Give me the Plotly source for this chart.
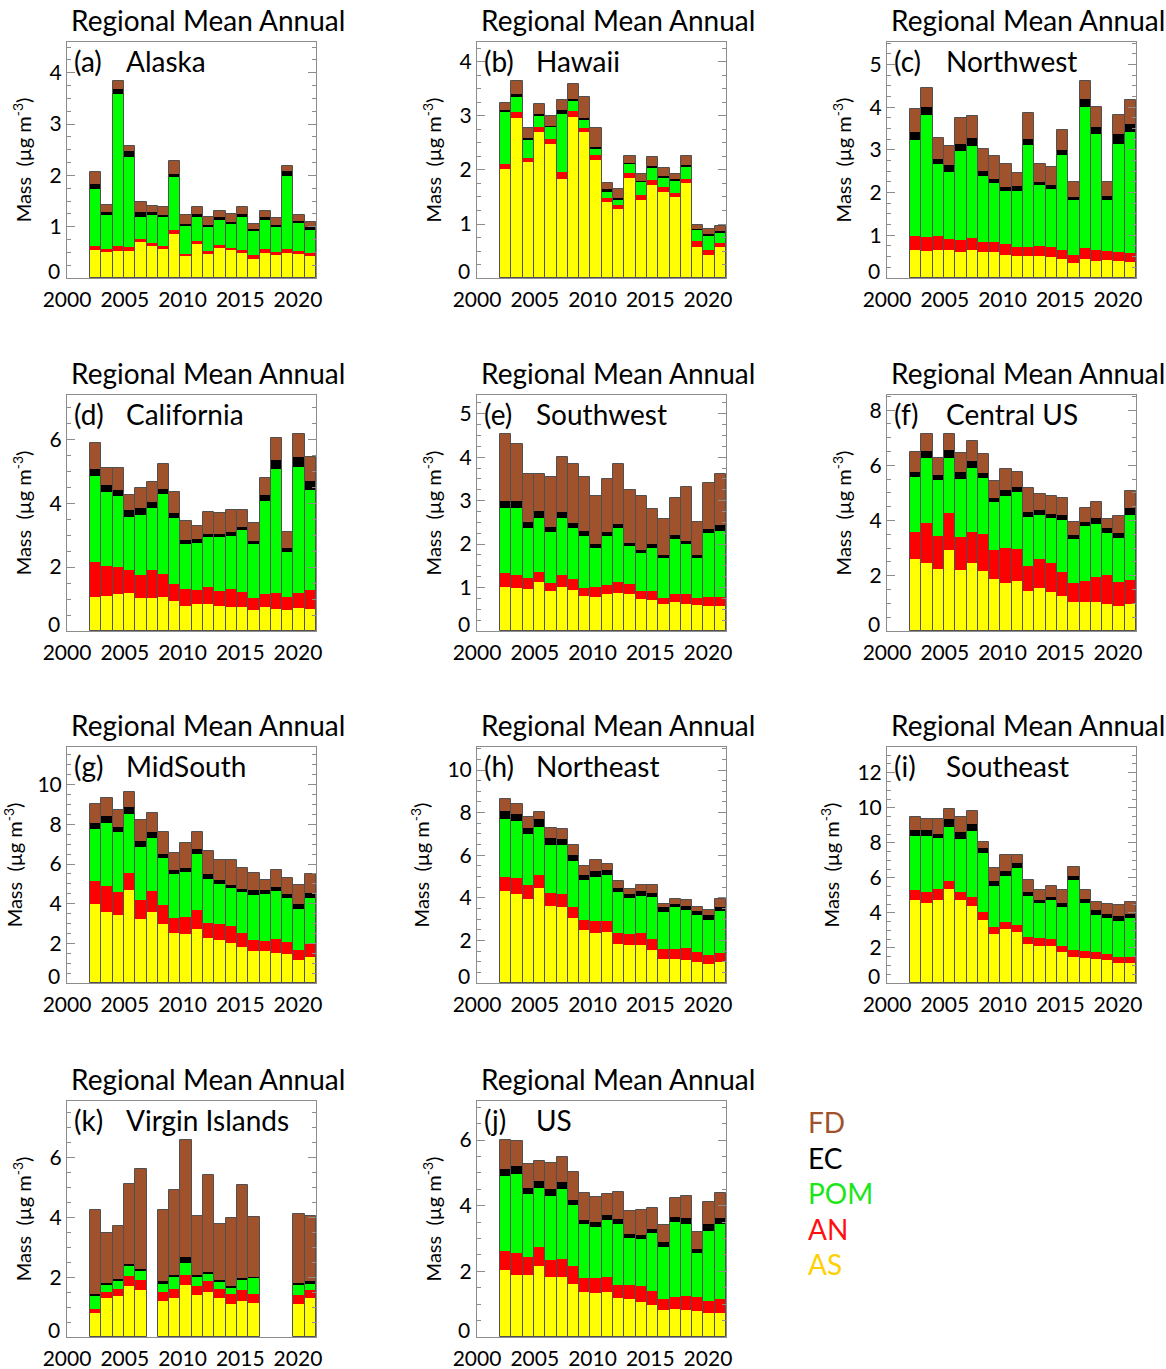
import numpy as np
import plotly.graph_objects as go

YEARS = list(range(2002, 2022))
SPECIES = ["AS", "AN", "POM", "EC", "FD"]
BAR_COLORS = {"AS": "#FFFF00", "AN": "#FF0000", "POM": "#00FF00", "EC": "#000000", "FD": "#A0522D"}
LEGEND_COLORS = {"FD": "#A0522D", "EC": "#000000", "POM": "#1AE61A", "AN": "#FF1010", "AS": "#FFD000"}
LEGEND_ORDER = ["FD", "EC", "POM", "AN", "AS"]
XTICKS = [2000, 2005, 2010, 2015, 2020]

# ---- data (ug m-3), 2002..2021 ----
ALASKA_AS = [0.55,0.51,0.52,0.52,0.70,0.62,0.57,0.85,0.42,0.66,0.46,0.58,0.54,0.49,0.38,0.49,0.44,0.49,0.46,0.43]
ALASKA_AN = [0.08,0.06,0.11,0.08,0.07,0.07,0.05,0.08,0.05,0.07,0.07,0.07,0.05,0.06,0.06,0.07,0.07,0.07,0.06,0.06]
ALASKA_POM = [1.11,0.65,2.95,1.76,0.42,0.54,0.57,1.04,0.54,0.46,0.46,0.49,0.47,0.64,0.49,0.58,0.48,1.42,0.55,0.44]
ALASKA_EC = [0.10,0.06,0.11,0.11,0.09,0.05,0.04,0.06,0.05,0.06,0.05,0.04,0.04,0.06,0.03,0.05,0.04,0.10,0.05,0.06]
ALASKA_FD = [0.23,0.14,0.15,0.11,0.21,0.13,0.15,0.26,0.17,0.13,0.15,0.12,0.15,0.13,0.09,0.12,0.13,0.10,0.10,0.10]

HAWAII_AS = [2.01,2.97,2.14,2.70,2.49,1.84,2.98,2.70,2.19,1.41,1.27,1.85,1.44,1.73,1.60,1.50,1.75,0.57,0.43,0.57]
HAWAII_AN = [0.11,0.10,0.09,0.10,0.09,0.12,0.11,0.08,0.09,0.08,0.08,0.09,0.09,0.08,0.09,0.08,0.08,0.11,0.09,0.08]
HAWAII_POM = [0.95,0.29,0.32,0.21,0.22,1.07,0.20,0.16,0.12,0.12,0.11,0.18,0.25,0.23,0.18,0.23,0.24,0.22,0.27,0.20]
HAWAII_EC = [0.05,0.05,0.05,0.03,0.02,0.09,0.03,0.02,0.03,0.03,0.02,0.01,0.01,0.03,0.02,0.03,0.02,0.01,0.02,0.02]
HAWAII_FD = [0.12,0.23,0.18,0.19,0.18,0.17,0.28,0.39,0.35,0.11,0.16,0.12,0.14,0.17,0.15,0.09,0.16,0.08,0.09,0.09]

NORTHWEST_AS = [0.65,0.63,0.65,0.65,0.61,0.65,0.62,0.61,0.53,0.52,0.51,0.52,0.49,0.45,0.35,0.45,0.41,0.43,0.39,0.38]
NORTHWEST_AN = [0.33,0.32,0.33,0.26,0.27,0.28,0.23,0.23,0.26,0.20,0.21,0.24,0.23,0.21,0.18,0.26,0.25,0.20,0.22,0.21]
NORTHWEST_POM = [2.26,2.86,1.70,1.57,2.09,2.16,1.55,1.39,1.24,1.33,2.39,1.41,1.37,2.22,1.29,3.30,2.71,1.19,2.52,2.82]
NORTHWEST_EC = [0.17,0.20,0.12,0.16,0.18,0.18,0.10,0.10,0.10,0.11,0.15,0.08,0.10,0.13,0.08,0.19,0.18,0.09,0.24,0.19]
NORTHWEST_FD = [0.56,0.45,0.49,0.46,0.61,0.52,0.53,0.53,0.53,0.31,0.61,0.41,0.41,0.45,0.35,0.41,0.46,0.34,0.44,0.58]

CALIFORNIA_AS = [1.07,1.09,1.15,1.18,1.04,1.04,1.05,0.93,0.78,0.83,0.83,0.79,0.76,0.74,0.67,0.74,0.70,0.67,0.71,0.68]
CALIFORNIA_AN = [1.09,0.95,0.85,0.74,0.70,0.88,0.74,0.54,0.54,0.44,0.54,0.47,0.56,0.48,0.37,0.43,0.48,0.39,0.47,0.59]
CALIFORNIA_POM = [2.70,2.32,2.22,1.65,1.89,1.92,2.49,2.08,1.41,1.50,1.56,1.67,1.66,1.95,1.68,2.91,3.88,1.41,3.95,3.15]
CALIFORNIA_EC = [0.21,0.21,0.19,0.21,0.21,0.19,0.17,0.15,0.12,0.11,0.11,0.10,0.11,0.10,0.10,0.18,0.29,0.12,0.33,0.29]
CALIFORNIA_FD = [0.81,0.54,0.70,0.47,0.63,0.64,0.77,0.66,0.61,0.42,0.68,0.65,0.71,0.53,0.56,0.52,0.68,0.51,0.70,0.73]

SOUTHWEST_AS = [1.01,1.00,0.96,1.13,0.91,1.02,0.95,0.80,0.79,0.85,0.88,0.84,0.73,0.71,0.61,0.67,0.62,0.59,0.57,0.57]
SOUTHWEST_AN = [0.33,0.30,0.26,0.23,0.20,0.28,0.24,0.19,0.23,0.22,0.25,0.25,0.20,0.21,0.16,0.19,0.22,0.18,0.21,0.22]
SOUTHWEST_POM = [1.50,1.53,1.16,1.25,1.16,1.30,1.19,1.19,0.90,1.11,1.23,0.86,0.86,1.00,0.92,1.25,1.16,0.91,1.47,1.52]
SOUTHWEST_EC = [0.14,0.15,0.12,0.14,0.12,0.14,0.10,0.11,0.09,0.09,0.11,0.07,0.08,0.08,0.06,0.10,0.08,0.07,0.10,0.13]
SOUTHWEST_FD = [1.56,1.33,1.12,0.87,1.15,1.26,1.36,1.25,1.09,1.22,1.38,1.23,1.24,0.81,0.83,0.85,1.23,0.76,1.05,1.18]

CENTRAL_AS = [2.60,2.48,2.24,2.93,2.20,2.46,2.17,1.90,1.73,1.82,1.44,1.57,1.40,1.27,1.05,1.05,1.04,0.99,0.91,0.98]
CENTRAL_AN = [1.00,1.45,1.20,1.33,1.21,1.14,1.33,1.03,1.26,1.15,0.91,1.03,1.05,0.87,0.69,0.75,0.93,1.03,0.85,0.85]
CENTRAL_POM = [1.99,2.35,2.03,2.02,2.10,2.30,2.03,1.73,1.91,2.05,1.77,1.60,1.63,1.89,1.59,1.99,1.92,1.52,1.61,2.37]
CENTRAL_EC = [0.18,0.25,0.18,0.26,0.26,0.26,0.18,0.17,0.22,0.19,0.18,0.18,0.15,0.17,0.14,0.17,0.19,0.18,0.17,0.24]
CENTRAL_FD = [0.71,0.60,0.61,0.59,0.67,0.73,0.69,0.61,0.75,0.54,0.87,0.57,0.66,0.61,0.49,0.48,0.61,0.32,0.61,0.63]

MIDSOUTH_AS = [4.00,3.60,3.43,4.67,3.22,3.60,3.00,2.53,2.48,2.70,2.28,2.16,2.03,1.84,1.62,1.59,1.49,1.44,1.16,1.32]
MIDSOUTH_AN = [1.14,1.27,1.16,0.89,0.98,1.02,0.94,0.75,0.85,1.00,0.77,0.84,0.85,0.66,0.57,0.52,0.75,0.64,0.48,0.67]
MIDSOUTH_POM = [2.63,3.22,3.01,2.97,2.65,2.68,2.36,2.20,2.26,2.82,2.21,2.01,1.91,2.07,2.27,2.40,2.40,2.21,2.11,2.31]
MIDSOUTH_EC = [0.29,0.32,0.26,0.33,0.30,0.29,0.22,0.20,0.21,0.25,0.22,0.18,0.15,0.17,0.21,0.20,0.20,0.22,0.22,0.24]
MIDSOUTH_FD = [0.97,0.90,0.88,0.79,1.09,1.00,1.08,0.90,1.27,0.82,1.20,0.99,1.24,1.07,0.87,0.50,0.87,0.77,0.95,0.97]

NORTHEAST_AS = [4.30,4.20,3.95,4.44,3.63,3.59,3.05,2.48,2.34,2.38,1.84,1.80,1.78,1.53,1.14,1.11,1.08,1.00,0.89,0.97]
NORTHEAST_AN = [0.68,0.72,0.64,0.64,0.59,0.58,0.54,0.49,0.58,0.54,0.50,0.50,0.56,0.53,0.44,0.47,0.55,0.44,0.42,0.44]
NORTHEAST_POM = [2.74,2.69,2.39,2.25,2.28,2.33,2.14,1.87,2.08,2.14,1.91,1.67,1.74,1.97,1.76,1.98,1.78,1.73,1.66,1.95]
NORTHEAST_EC = [0.36,0.34,0.29,0.36,0.33,0.28,0.27,0.24,0.27,0.25,0.23,0.20,0.22,0.20,0.21,0.17,0.22,0.22,0.20,0.23]
NORTHEAST_FD = [0.55,0.44,0.53,0.36,0.44,0.45,0.48,0.42,0.50,0.27,0.32,0.25,0.31,0.35,0.17,0.22,0.26,0.19,0.28,0.35]

SOUTHEAST_AS = [4.76,4.57,4.76,5.37,4.71,4.38,3.62,2.77,3.06,2.90,2.24,2.13,2.09,1.76,1.48,1.44,1.35,1.29,1.14,1.16]
SOUTHEAST_AN = [0.55,0.61,0.61,0.47,0.47,0.55,0.42,0.42,0.41,0.42,0.38,0.43,0.43,0.35,0.38,0.38,0.41,0.34,0.34,0.32]
SOUTHEAST_POM = [3.10,3.19,2.88,3.08,3.04,3.76,3.38,2.37,2.62,3.25,2.37,1.99,2.19,2.25,4.02,2.75,2.15,2.09,2.05,2.24]
SOUTHEAST_EC = [0.34,0.36,0.25,0.42,0.41,0.38,0.28,0.25,0.32,0.28,0.23,0.21,0.19,0.19,0.25,0.25,0.23,0.23,0.27,0.23]
SOUTHEAST_FD = [0.70,0.64,0.87,0.62,0.86,0.76,0.36,0.76,0.90,0.46,0.68,0.52,0.66,0.78,0.47,0.51,0.47,0.57,0.68,0.66]

VIRGIN_AS = [0.80,1.30,1.38,1.72,1.58,None,1.19,1.30,1.73,1.41,1.51,1.32,1.11,1.22,1.13,None,None,None,1.11,1.30]
VIRGIN_AN = [0.13,0.20,0.23,0.32,0.33,None,0.31,0.30,0.33,0.31,0.36,0.28,0.32,0.34,0.31,None,None,None,0.30,0.26]
VIRGIN_POM = [0.43,0.27,0.26,0.32,0.28,None,0.30,0.42,0.41,0.30,0.26,0.24,0.23,0.35,0.56,None,None,None,0.33,0.24]
VIRGIN_EC = [0.07,0.05,0.07,0.08,0.08,None,0.06,0.06,0.19,0.06,0.05,0.06,0.04,0.05,0.02,None,None,None,0.05,0.06]
VIRGIN_FD = [2.81,1.65,1.78,2.69,3.34,None,2.38,2.83,3.92,1.96,3.23,1.88,2.27,3.12,2.00,None,None,None,2.32,2.18]

US_AS = [2.03,1.90,1.88,2.17,1.82,1.84,1.62,1.38,1.34,1.37,1.18,1.16,1.07,0.98,0.81,0.86,0.81,0.78,0.73,0.73]
US_AN = [0.59,0.67,0.57,0.57,0.53,0.54,0.55,0.42,0.47,0.46,0.41,0.43,0.47,0.41,0.35,0.37,0.44,0.43,0.38,0.43]
US_POM = [2.28,2.41,1.91,1.79,1.95,2.13,1.85,1.64,1.53,1.74,1.85,1.42,1.44,1.77,1.59,2.27,2.19,1.34,2.12,2.27]
US_EC = [0.22,0.23,0.17,0.22,0.20,0.22,0.15,0.13,0.15,0.14,0.15,0.13,0.13,0.13,0.13,0.17,0.18,0.13,0.20,0.19]
US_FD = [0.88,0.76,0.74,0.61,0.79,0.76,0.85,0.81,0.79,0.64,0.82,0.70,0.76,0.65,0.53,0.55,0.68,0.51,0.69,0.76]

# ---- layout geometry (pixels) ----
W, H = 1166, 1369
COL_LEFT = [67, 477, 887]
ROW_TOP = [42, 395, 747, 1101]
PW, PH = 249, 236
XMIN, XMAX = 2000, 2021.56
SLOT = 0.978
FONT = "Lato"
TICK_FS = 21

# (label, name, arrays, row, col, ymax, dtick)
PANELS = [
    ("(a)", "Alaska", (ALASKA_AS, ALASKA_AN, ALASKA_POM, ALASKA_EC, ALASKA_FD), 0, 0, 4.6, 1),
    ("(b)", "Hawaii", (HAWAII_AS, HAWAII_AN, HAWAII_POM, HAWAII_EC, HAWAII_FD), 0, 1, 4.37, 1),
    ("(c)", "Northwest", (NORTHWEST_AS, NORTHWEST_AN, NORTHWEST_POM, NORTHWEST_EC, NORTHWEST_FD), 0, 2, 5.53, 1),
    ("(d)", "California", (CALIFORNIA_AS, CALIFORNIA_AN, CALIFORNIA_POM, CALIFORNIA_EC, CALIFORNIA_FD), 1, 0, 7.39, 2),
    ("(e)", "Southwest", (SOUTHWEST_AS, SOUTHWEST_AN, SOUTHWEST_POM, SOUTHWEST_EC, SOUTHWEST_FD), 1, 1, 5.43, 1),
    ("(f)", "Central US", (CENTRAL_AS, CENTRAL_AN, CENTRAL_POM, CENTRAL_EC, CENTRAL_FD), 1, 2, 8.55, 2),
    ("(g)", "MidSouth", (MIDSOUTH_AS, MIDSOUTH_AN, MIDSOUTH_POM, MIDSOUTH_EC, MIDSOUTH_FD), 2, 0, 11.9, 2),
    ("(h)", "Northeast", (NORTHEAST_AS, NORTHEAST_AN, NORTHEAST_POM, NORTHEAST_EC, NORTHEAST_FD), 2, 1, 11.08, 2),
    ("(i)", "Southeast", (SOUTHEAST_AS, SOUTHEAST_AN, SOUTHEAST_POM, SOUTHEAST_EC, SOUTHEAST_FD), 2, 2, 13.47, 2),
    ("(k)", "Virgin Islands", (VIRGIN_AS, VIRGIN_AN, VIRGIN_POM, VIRGIN_EC, VIRGIN_FD), 3, 0, 7.89, 2),
    ("(j)", "US", (US_AS, US_AN, US_POM, US_EC, US_FD), 3, 1, 7.19, 2),
]

def px_x(p):
    return p / W

def px_y(p):
    return 1 - p / H

years = np.array(YEARS, dtype=float)
xpos = YEARS[0] + SLOT * (years - YEARS[0] + 0.5)

fig = go.Figure()
layout = dict(
    width=W, height=H, margin=dict(l=0, r=0, t=0, b=0, autoexpand=False),
    paper_bgcolor="white", plot_bgcolor="white",
    barmode="overlay", showlegend=False, bargap=0,
    font=dict(family=FONT, color="black"),
)
annotations = []

for k, (lab, name, arrs, r, c, ymax, dtick) in enumerate(PANELS):
    idx = "" if k == 0 else str(k + 1)
    xa, ya = "x" + idx, "y" + idx
    L, T = COL_LEFT[c], ROW_TOP[r]
    vals = [np.array([np.nan if v is None else v for v in a], dtype=float) for a in arrs]
    base = np.zeros(len(YEARS))
    for sp, v in zip(SPECIES, vals):
        fig.add_trace(go.Bar(
            x=xpos, y=v, base=base.copy(), width=SLOT, xaxis=xa, yaxis=ya,
            marker=dict(color=BAR_COLORS[sp], line=dict(width=0)), name=sp,
        ))
        base = base + v
    fig.add_trace(go.Bar(
        x=xpos, y=base, base=np.zeros(len(YEARS)), width=SLOT, xaxis=xa, yaxis=ya,
        marker=dict(color="rgba(0,0,0,0)", line=dict(width=1, color="#505050")), name="total",
    ))
    layout["xaxis" + idx] = dict(
        domain=[px_x(L), px_x(L + PW)], anchor=ya, range=[XMIN, XMAX], automargin=False,
        tickvals=XTICKS, ticks="", showgrid=False, zeroline=False,
        showline=True, linecolor="#8c8c8c", linewidth=1, mirror=True,
        tickfont=dict(size=TICK_FS, family=FONT, color="black"), ticklabelstandoff=3,
    )
    layout["yaxis" + idx] = dict(
        domain=[px_y(T + PH), px_y(T)], anchor=xa, range=[0, ymax], automargin=False,
        dtick=dtick, tick0=0, ticks="inside", ticklen=8, tickcolor="#8c8c8c",
        minor=dict(dtick=dtick / 4, ticks="inside", ticklen=4, tickcolor="#8c8c8c"),
        showgrid=False, zeroline=False, showline=True, linecolor="#8c8c8c", linewidth=1,
        mirror="allticks", tickfont=dict(size=TICK_FS, family=FONT, color="black"),
        ticklabelstandoff=0, labelalias={"0": " "},
        title=dict(text="Mass&nbsp; (µg m<sup>-3</sup>)", font=dict(size=20, family=FONT, color="black"), standoff=12),
    )
    # the zero label sits a little above the baseline, as in the original
    annotations.append(dict(text="0", x=px_x(L - 5), y=px_y(T + PH - 8), xref="paper", yref="paper",
                            xanchor="right", yanchor="middle", showarrow=False,
                            font=dict(size=TICK_FS, family=FONT, color="black")))
    annotations.append(dict(text="Regional Mean Annual", x=px_x(L + 141), y=px_y(T - 22), xref="paper", yref="paper",
                            xanchor="center", yanchor="middle", showarrow=False, font=dict(size=28, family=FONT, color="black")))
    annotations.append(dict(text=lab, x=px_x(L + 5), y=px_y(T + 19), xref="paper", yref="paper",
                            xanchor="left", yanchor="middle", showarrow=False, font=dict(size=28, family=FONT, color="black")))
    annotations.append(dict(text=name, x=px_x(L + 57), y=px_y(T + 19), xref="paper", yref="paper",
                            xanchor="left", yanchor="middle", showarrow=False, font=dict(size=28, family=FONT, color="black")))

LEG_X, LEG_Y0, LEG_DY = 806, 1122, 35.5
for i, sp in enumerate(LEGEND_ORDER):
    annotations.append(dict(text=sp, x=px_x(LEG_X), y=px_y(LEG_Y0 + i * LEG_DY), xref="paper", yref="paper",
                            xanchor="left", yanchor="middle", showarrow=False,
                            font=dict(size=28, family=FONT, color=LEGEND_COLORS[sp])))

layout["annotations"] = annotations
fig.update_layout(**layout)
fig.write_html("out.html", config={"displayModeBar": False},
               post_script="document.body.style.margin='0px';document.body.style.padding='0px';")
